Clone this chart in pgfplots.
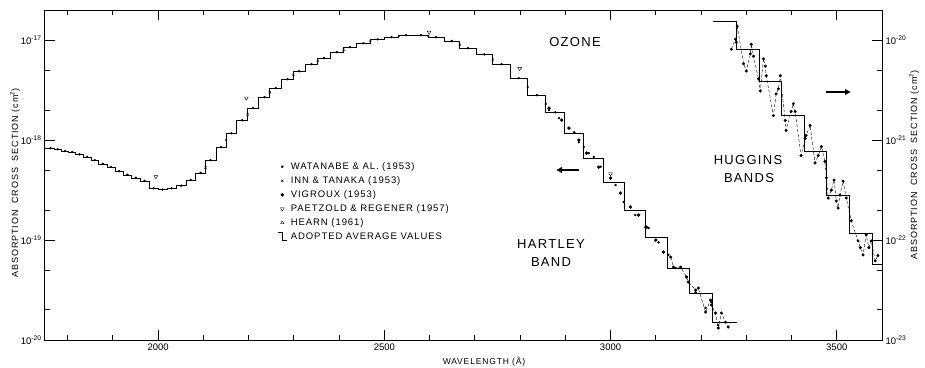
\documentclass[border=0pt]{standalone}
\usepackage{fontspec}
\setmainfont{Liberation Sans}
\newfontfamily\lab[LetterSpace=10]{Liberation Sans}
\usepackage{pgfplots}
\pgfplotsset{compat=1.18}
\usetikzlibrary{arrows.meta}
\newcommand{\tl}[1]{10\textsuperscript{#1}}
\pgfplotsset{
  legmark/.style={legend image code/.code={\draw[##1] plot coordinates {(4pt,0pt)};}},
  legstep/.style={legend image code/.code={\draw[##1] (0pt,4pt) -- (4pt,4pt) -- (4pt,-4pt) -- (9pt,-4pt);}},
}
\begin{document}
\begin{tikzpicture}[x=1pt,y=1pt]
\useasboundingbox (-45,-27) rectangle (880,340);
\begin{axis}[
  at={(0,0)}, anchor=south west,
  scale only axis, width=837pt, height=330pt,
  xmin=1750, xmax=3600, ymode=log, ymin=1e-20, ymax=2e-17,
  axis line style={line width=1pt},
  tick style={line width=0.9pt, black},
  major tick length=10pt, minor tick length=5pt,
  xtick={2000,2500,3000,3500}, xticklabels={2000,2500,3000,3500},
  minor xtick={1800,1900,2100,2200,2300,2400,2600,2700,2800,2900,3100,3200,3300,3400},
  ytick={1e-20,1e-19,1e-18,1e-17},
  yticklabels={\tl{-20},\tl{-19},\tl{-18},\tl{-17}},
  minor ytick={2e-20,5e-20,2e-19,5e-19,2e-18,5e-18},
  ytick pos=left,
  tick label style={font=\fontsize{9.5}{11}\selectfont},
  legend style={at={(0.278,0.542)}, anchor=north west, draw=none, fill=none,
    font=\lab\fontsize{9.5}{11}\selectfont, row sep=3pt, column sep=2pt,
    inner sep=0pt, nodes={inner sep=1pt, text height=7pt, text depth=2pt}},
  legend cell align=left,
]
% Watanabe & al.
\addplot[only marks, mark=*, mark size=1pt, black, legmark] coordinates {
(1762,8.3e-19)(1778,8.1e-19)(1794,7.8e-19)(1810,7.6e-19)(1826,7.2e-19)(1843,6.8e-19)
(1860,6.3e-19)(1878,5.8e-19)(1896,5.4e-19)(1914,4.9e-19)(1932,4.5e-19)(1951,4.2e-19)
(1970,3.9e-19)(1990,3.3e-19)(2010,3.2e-19)(2030,3.3e-19)(2051,3.5e-19)(2072,4.0e-19)
(2094,4.7e-19)(2116,6.3e-19)(2139,8.5e-19)(2162,1.17e-18)(2186,1.58e-18)(2210,2.09e-18)
(2235,2.69e-18)(2260,3.31e-18)(2286,4.07e-18)(2312,4.90e-18)(2339,5.75e-18)(2367,6.61e-18)
(2395,7.59e-18)(2424,8.51e-18)(2454,9.33e-18)(2485,1.02e-17)(2516,1.07e-17)(2548,1.12e-17)
(2581,1.12e-17)(2614,1.07e-17)(2649,9.8e-18)(2685,8.3e-18)(2721,7.2e-18)(2759,5.75e-18)
(2797,4.17e-18)(2837,2.82e-18)(2878,1.9e-18)(2920,1.2e-18)(2963,6.8e-19)
(2864,2.0e-18)(2886,1.66e-18)(2908,1.32e-18)(2930,9.5e-19)(2952,7.4e-19)(2978,5.4e-19)
(3011,3.55e-19)(3029,2.4e-19)(3055,1.78e-19)(3084,1.32e-19)(3106,9.5e-20)(3128,7.1e-20)
(3144,5.25e-20)(3168,4.27e-20)(3188,3.0e-20)(3210,2.1e-20)(3223,2.4e-20)(3238,1.41e-20)};
\addlegendentry{WATANABE \& AL. (1953)}
% Inn & Tanaka
\addplot[only marks, mark=x, mark size=1.5pt, black, legmark] coordinates {
(2105,5.3e-19)(2150,1.0e-18)(2198,1.8e-18)(2247,3.0e-18)(2299,4.5e-18)(2353,6.2e-18)
(2410,8.0e-18)(2469,9.8e-18)(2532,1.10e-17)(2597,1.10e-17)(2667,9.0e-18)(2740,6.4e-18)
(2817,3.4e-18)(2857,2.3e-18)(2941,8.5e-19)};
\addlegendentry{INN \& TANAKA (1953)}
% Vigroux
\addplot[only marks, mark=*, mark size=1.5pt, black, legmark] coordinates {
(2864,2.09e-18)(2892,1.585e-18)(2908,1.318e-18)(2930,1.0e-18)(2947,7.41e-19)(2974,5.37e-19)
(3000,4.17e-19)(3022,2.95e-19)(3044,2.14e-19)(3062,1.778e-19)(3080,1.349e-19)(3100,1.0e-19)
(3117,7.59e-20)};
\addlegendentry{VIGROUX (1953)}
% Paetzold & Regener
\addplot[only marks, mark=triangle, mark size=2.2pt, mark options={rotate=180}, black, legmark] coordinates {
(1995,4.3e-19)(2195,2.63e-18)(2599,1.2e-17)(2799,5.2e-18)(3000,4.6e-19)};
\addlegendentry{PAETZOLD \& REGENER (1957)}
% Hearn
\addplot[only marks, mark=triangle, mark size=1.8pt, black, legmark] coordinates {
(3077,1.35e-19)};
\addlegendentry{HEARN (1961)}
% Adopted average values
\addplot[const plot, no marks, black, line width=0.9pt, legstep] coordinates {
(1750,8.32e-19)(1770,8.13e-19)(1786,7.76e-19)(1802,7.59e-19)(1818,7.24e-19)(1835,6.76e-19)
(1852,6.31e-19)(1869,5.75e-19)(1887,5.37e-19)(1905,4.90e-19)(1923,4.47e-19)(1942,4.17e-19)
(1961,3.89e-19)(1980,3.31e-19)(2000,3.24e-19)(2020,3.31e-19)(2041,3.55e-19)(2062,3.98e-19)
(2083,4.68e-19)(2105,6.31e-19)(2128,8.51e-19)(2150,1.175e-18)(2174,1.585e-18)(2198,2.09e-18)
(2222,2.69e-18)(2247,3.31e-18)(2273,4.07e-18)(2299,4.90e-18)(2326,5.75e-18)(2353,6.61e-18)
(2381,7.59e-18)(2410,8.51e-18)(2439,9.33e-18)(2469,1.023e-17)(2500,1.072e-17)(2532,1.122e-17)
(2564,1.122e-17)(2597,1.072e-17)(2632,9.77e-18)(2667,8.32e-18)(2703,7.24e-18)(2740,5.75e-18)
(2778,4.17e-18)(2817,2.82e-18)(2857,1.905e-18)(2899,1.175e-18)(2941,6.61e-19)(2985,3.80e-19)
(3030,2.00e-19)(3077,1.072e-19)(3125,5.25e-20)(3175,2.95e-20)(3226,1.51e-20)(3279,1.51e-20)};
\addlegendentry{ADOPTED AVERAGE VALUES}
% Vigroux tail, dashed
\addplot[forget plot, densely dashed, thin, mark=*, mark size=1.3pt, mark options={solid}, black] coordinates {
(3133,6.76e-20)(3139,5.37e-20)(3155,5.37e-20)(3168,4.27e-20)(3172,3.80e-20)(3188,3.16e-20)
(3194,3.31e-20)(3210,1.905e-20)(3221,2.51e-20)(3223,2.24e-20)(3232,1.862e-20)(3238,1.318e-20)
(3245,1.862e-20)(3254,1.51e-20)(3260,1.35e-20)};
\end{axis}
\begin{axis}[
  at={(0,0)}, anchor=south west,
  scale only axis, width=837pt, height=330pt,
  xmin=1750, xmax=3600, ymode=log, ymin=1e-23, ymax=2e-20,
  hide x axis, axis y line*=right, tick align=inside,
  axis line style={line width=1pt},
  tick style={line width=0.9pt, black},
  major tick length=10pt, minor tick length=5pt,
  ytick={1e-23,1e-22,1e-21,1e-20},
  yticklabels={\tl{-23},\tl{-22},\tl{-21},\tl{-20}},
  minor ytick={2e-23,5e-23,2e-22,5e-22,2e-21,5e-21},
  tick label style={font=\fontsize{9.5}{11}\selectfont},
]
\addplot[const plot, no marks, black, line width=0.9pt] coordinates {
(3226,1.52e-20)(3278,8.14e-21)(3328,3.86e-21)(3378,1.77e-21)(3428,7.76e-22)
(3478,2.80e-22)(3528,1.16e-22)(3578,5.73e-23)(3600,5.73e-23)};
\addplot[densely dashed, thin, mark=*, mark size=1.3pt, mark options={solid}, black] coordinates {
(3267,8.1e-21)(3276,1.02e-20)(3278,9.5e-21)(3280,1.38e-20)(3294,5.8e-21)(3300,4.9e-21)
(3309,7.3e-21)(3311,9.1e-21)(3316,6.9e-21)(3327,4.1e-21)(3331,3.1e-21)(3338,6.5e-21)
(3342,5.5e-21)(3344,4.4e-21)(3360,1.76e-21)(3366,2.9e-21)(3371,3.26e-21)(3375,4.4e-21)
(3386,1.57e-21)(3388,1.25e-21)(3399,1.93e-21)(3404,2.31e-21)(3408,1.93e-21)(3421,7.0e-22)
(3430,1.04e-21)(3432,1.11e-21)(3441,1.40e-21)(3452,5.9e-22)(3459,7.0e-22)(3466,8.6e-22)
(3474,6.1e-22)(3477,4.2e-22)(3481,2.63e-22)(3488,3.16e-22)(3494,3.98e-22)(3499,2.46e-22)
(3503,2.09e-22)(3507,2.82e-22)(3514,3.88e-22)(3521,2.63e-22)(3532,1.56e-22)(3547,9.8e-23)
(3552,8.4e-23)(3558,7.1e-23)(3565,1.13e-22)(3571,8.4e-23)(3576,9.8e-23)(3585,6.2e-23)
(3591,7.0e-23)};
\end{axis}
% labels and annotations
\node[rotate=90, font=\lab\fontsize{9}{10}\selectfont] at (-30,157) {ABSORPTION\ \ CROSS\ \ SECTION (cm\textsuperscript{2})};
\node[rotate=90, font=\lab\fontsize{9}{10}\selectfont] at (869,175) {ABSORPTION\ \ CROSS\ \ SECTION (cm\textsuperscript{2})};
\node[font=\lab\fontsize{8.5}{10}\selectfont] at (439,-22) {WAVELENGTH (Å)};
\node[font=\lab\fontsize{13}{15}\selectfont] at (530,298) {OZONE};
\node[font=\lab\fontsize{13}{15}\selectfont] at (506,96) {HARTLEY};
\node[font=\lab\fontsize{13}{15}\selectfont] at (506,78) {BAND};
\node[font=\lab\fontsize{13}{15}\selectfont] at (703,180) {HUGGINS};
\node[font=\lab\fontsize{13}{15}\selectfont] at (704,162) {BANDS};
\draw[-{Latex[length=6pt,width=7pt]}, line width=2.2pt] (534,170) -- (511,170);
\draw[-{Latex[length=6pt,width=7pt]}, line width=2.2pt] (781,248) -- (806,248);
\end{tikzpicture}
\end{document}
